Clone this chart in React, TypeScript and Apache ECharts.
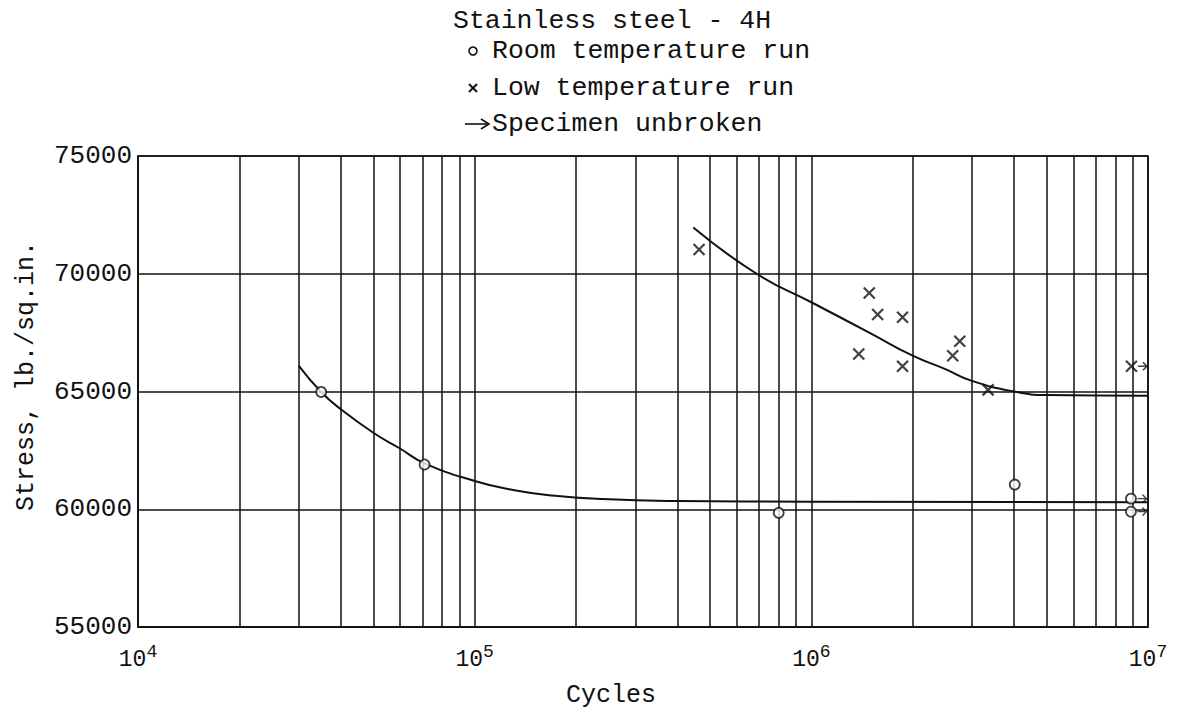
import React, { useEffect, useRef } from 'react';
import * as echarts from 'echarts';

const FONT = '"Liberation Mono", "DejaVu Sans Mono", monospace';
const INK = '#111';

// Room temperature run (circles)
const roomCycles = [35000, 71000, 800000, 4020000, 8900000, 8900000];
const roomStress = [64980, 61900, 59850, 61050, 60450, 59900];
const roomUnbroken = [false, false, false, false, true, true];

// Low temperature run (crosses)
const lowCycles = [464000, 1383000, 1486000, 1574000, 1866000, 1866000, 2630000, 2760000, 3350000, 8930000];
const lowStress = [71030, 66590, 69180, 68270, 68150, 66070, 66520, 67130, 65070, 66070];
const lowUnbroken = [false, false, false, false, false, false, false, false, false, true];

// Fitted curves
const roomCurveCycles = [30000, 35000, 40000, 50000, 60000, 71000, 100000, 130000, 170000, 240000, 400000, 1000000, 10000000];
const roomCurveStress = [66100, 64980, 64250, 63250, 62580, 61950, 61200, 60820, 60580, 60430, 60350, 60320, 60300];
const lowCurveCycles = [446000, 688000, 1000000, 1500000, 2000000, 2500000, 3000000, 4000000, 5000000, 10000000];
const lowCurveStress = [71960, 70000, 68790, 67470, 66520, 65950, 65450, 65000, 64850, 64815];

// Graph-paper minor lines
const minorCycles = [
  20000, 30000, 40000, 50000, 60000, 70000, 80000, 90000,
  200000, 300000, 400000, 500000, 600000, 700000, 800000, 900000,
  2000000, 3000000, 4000000, 5000000, 6000000, 7000000, 8000000, 9000000,
];

const titleText = 'Stainless steel - 4H';
const legendRoom = 'Room temperature run';
const legendLow = 'Low temperature run';
const legendUnbroken = 'Specimen unbroken';
const yName = 'Stress, lb./sq.in.';
const xName = 'Cycles';

const ARROW = 'path://M0,5L9,5M5,1L9,5L5,9';

export default function App() {
  const ref = useRef<HTMLDivElement>(null);
  useEffect(() => {
    document.body.style.margin = '0';
    const chart = echarts.init(ref.current!, null, { renderer: 'svg' });
    const txt = (text: string, x: number, y: number, size: number, extra: any = {}) => ({
      type: 'text',
      x,
      y,
      ...extra,
      style: {
        text,
        fill: INK,
        font: `${size}px ${FONT}`,
        verticalAlign: 'middle',
        align: 'left',
        ...(extra.style || {}),
      },
    });
    const unbrokenPts = [
      ...roomCycles.map((c, i) => (roomUnbroken[i] ? [c, roomStress[i]] : null)),
      ...lowCycles.map((c, i) => (lowUnbroken[i] ? [c, lowStress[i]] : null)),
    ].filter(Boolean);
    chart.setOption({
      animation: false,
      backgroundColor: '#fff',
      grid: { left: 138, right: 32, top: 156, bottom: 81, show: true, borderColor: INK, borderWidth: 1.6 },
      xAxis: {
        type: 'log',
        logBase: 10,
        min: 10000,
        max: 10000000,
        axisLine: { show: true, lineStyle: { color: INK, width: 1.6 } },
        axisTick: { show: false },
        splitLine: { show: true, lineStyle: { color: INK, width: 1.5 } },
        axisLabel: {
          margin: 16,
          color: INK,
          formatter: (v: number) => `{b|10}{s|${Math.round(Math.log10(v))}}`,
          rich: {
            b: { fontSize: 23, fontFamily: FONT, color: INK },
            s: { fontSize: 18, fontFamily: FONT, color: INK, padding: [0, 0, 16, 0] },
          },
        },
      },
      yAxis: {
        type: 'value',
        min: 55000,
        max: 75000,
        interval: 5000,
        axisLine: { show: true, lineStyle: { color: INK, width: 1.6 } },
        axisTick: { show: false },
        splitLine: { show: true, lineStyle: { color: INK, width: 1.5 } },
        axisLabel: {
          margin: 6,
          color: INK,
          fontSize: 26,
          fontFamily: FONT,
          formatter: (v: number) => String(v),
        },
      },
      graphic: [
        txt(titleText, 453, 21, 26.5),
        { type: 'circle', shape: { cx: 473, cy: 51, r: 4 }, style: { fill: '#fff', stroke: INK, lineWidth: 1.6 } },
        txt(legendRoom, 492, 51, 26.5),
        { type: 'line', shape: { x1: 469, y1: 84, x2: 477, y2: 92 }, style: { stroke: INK, lineWidth: 2 } },
        { type: 'line', shape: { x1: 477, y1: 84, x2: 469, y2: 92 }, style: { stroke: INK, lineWidth: 2 } },
        txt(legendLow, 492, 88, 26.5),
        { type: 'line', shape: { x1: 465, y1: 124, x2: 488, y2: 124 }, style: { stroke: INK, lineWidth: 1.6 } },
        { type: 'polyline', shape: { points: [[481, 119], [489, 124], [481, 129]] }, style: { stroke: INK, fill: 'none', lineWidth: 1.6 } },
        txt(legendUnbroken, 492, 124, 26.5),
        txt(yName, 26, 376, 25, { rotation: Math.PI / 2, style: { align: 'center' } }),
        txt(xName, 611, 695, 25, { style: { align: 'center' } }),
      ],
      series: [
        {
          type: 'line',
          data: roomCurveCycles.map((c, i) => [c, roomCurveStress[i]]),
          smooth: 0.5,
          showSymbol: false,
          lineStyle: { color: INK, width: 2 },
          z: 3,
          markLine: {
            silent: true,
            symbol: ['none', 'none'],
            label: { show: false },
            lineStyle: { color: INK, width: 1.5, type: 'solid' },
            data: minorCycles.map((c) => ({ xAxis: c })),
          },
        },
        {
          type: 'line',
          data: lowCurveCycles.map((c, i) => [c, lowCurveStress[i]]),
          smooth: 0.5,
          showSymbol: false,
          lineStyle: { color: INK, width: 2 },
          z: 3,
        },
        {
          type: 'scatter',
          symbol: 'circle',
          symbolSize: 10,
          itemStyle: { color: '#fff', borderColor: INK, borderWidth: 1.8 },
          z: 5,
          data: roomCycles.map((c, i) => [c, roomStress[i]]),
        },
        {
          type: 'scatter',
          symbol: 'path://M0,0L10,10M10,0L0,10',
          symbolSize: 11,
          itemStyle: { color: 'none', borderColor: INK, borderWidth: 2.2 },
          z: 5,
          data: lowCycles.map((c, i) => [c, lowStress[i]]),
        },
        {
          type: 'scatter',
          symbol: ARROW,
          symbolSize: [9, 8],
          symbolOffset: [11, 0],
          itemStyle: { color: 'none', borderColor: INK, borderWidth: 1.5 },
          z: 6,
          data: unbrokenPts,
        },
      ],
    });
    return () => chart.dispose();
  }, []);
  return <div ref={ref} style={{ width: 1180, height: 708 }} />;
}
